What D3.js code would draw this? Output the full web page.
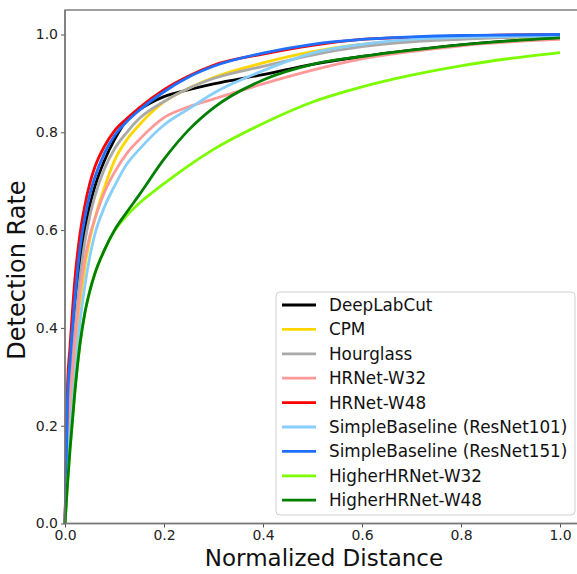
<!DOCTYPE html>
<html>
<head>
<meta charset="utf-8">
<script src="https://cdn.jsdelivr.net/npm/d3@7"></script>
<style>
  html, body { margin: 0; padding: 0; background: #fff; }
  svg { display: block; font-family: "DejaVu Sans", sans-serif; }
</style>
</head>
<body>
<svg id="chart" width="577" height="574"></svg>
<script>
// ---- data ----
const xs = [0, 0.005, 0.01, 0.02, 0.03, 0.04, 0.05, 0.06, 0.08, 0.1, 0.125, 0.15, 0.2, 0.25, 0.3, 0.4, 0.5, 0.6, 0.7, 0.8, 0.9, 1.0];

const seriesNames = ["DeepLabCut", "CPM", "Hourglass", "HRNet-W32", "HRNet-W48",
  "SimpleBaseline (ResNet101)", "SimpleBaseline (ResNet151)", "HigherHRNet-W32", "HigherHRNet-W48"];

const deepLabCut   = [0, 0.22, 0.30, 0.43, 0.53, 0.60, 0.65, 0.688, 0.743, 0.785, 0.825, 0.846, 0.873, 0.887, 0.899, 0.918, 0.939, 0.955, 0.968, 0.979, 0.987, 0.993];
const cpm          = [0, 0.12, 0.20, 0.33, 0.445, 0.525, 0.58, 0.622, 0.688, 0.742, 0.785, 0.815, 0.862, 0.89, 0.912, 0.942, 0.965, 0.98, 0.988, 0.992, 0.994, 0.995];
const hourglass    = [0, 0.20, 0.28, 0.40, 0.50, 0.575, 0.628, 0.668, 0.726, 0.766, 0.80, 0.828, 0.863, 0.89, 0.91, 0.935, 0.958, 0.975, 0.985, 0.99, 0.994, 0.996];
const hrnetW32     = [0, 0.15, 0.23, 0.37, 0.47, 0.54, 0.588, 0.622, 0.678, 0.718, 0.757, 0.785, 0.83, 0.852, 0.868, 0.899, 0.927, 0.95, 0.965, 0.977, 0.985, 0.99];
const hrnetW48     = [0, 0.28, 0.36, 0.50, 0.59, 0.65, 0.695, 0.728, 0.772, 0.803, 0.828, 0.85, 0.887, 0.915, 0.937, 0.96, 0.978, 0.99, 0.994, 0.997, 0.999, 1.0];
const sbResNet101  = [0, 0.11, 0.18, 0.30, 0.41, 0.485, 0.545, 0.59, 0.648, 0.69, 0.735, 0.765, 0.815, 0.848, 0.88, 0.926, 0.962, 0.98, 0.99, 0.994, 0.996, 0.997];
const sbResNet151  = [0, 0.25, 0.33, 0.46, 0.56, 0.625, 0.672, 0.707, 0.758, 0.793, 0.822, 0.845, 0.883, 0.913, 0.935, 0.962, 0.98, 0.99, 0.995, 0.998, 0.999, 1.0];
const higherW32    = [0, 0.08, 0.15, 0.27, 0.365, 0.43, 0.475, 0.51, 0.56, 0.598, 0.63, 0.655, 0.695, 0.732, 0.765, 0.818, 0.862, 0.893, 0.917, 0.936, 0.951, 0.963];
const higherW48    = [0, 0.08, 0.15, 0.27, 0.365, 0.43, 0.475, 0.51, 0.56, 0.60, 0.637, 0.672, 0.745, 0.805, 0.85, 0.907, 0.939, 0.955, 0.968, 0.979, 0.987, 0.993];

const seriesValues = [deepLabCut, cpm, hourglass, hrnetW32, hrnetW48, sbResNet101, sbResNet151, higherW32, higherW48];
const seriesColors = ["#000000", "#ffd700", "#a9a9a9", "#ff9999", "#ff0000", "#87cefa", "#1f6fff", "#7cfc00", "#007f00"];

const xTicks = [0, 0.2, 0.4, 0.6, 0.8, 1.0];
const yTicks = [0, 0.2, 0.4, 0.6, 0.8, 1.0];
const xLabel = "Normalized Distance";
const yLabel = "Detection Rate";

// ---- layout ----
const svg = d3.select("#chart");
const mLeft = 65, mTop = 10, mBottom = 523.5;
const x = d3.scaleLinear().domain([0, 1.05]).range([mLeft, mLeft + 1.05 * 495]);
const y = d3.scaleLinear().domain([0, 1.05]).range([mBottom, mBottom - 1.05 * 489]);

// frame
svg.append("rect")
  .attr("x", mLeft).attr("y", mTop)
  .attr("width", x(1.05) - mLeft).attr("height", mBottom - mTop)
  .attr("fill", "none").attr("stroke", "#777").attr("stroke-width", 1.4);

// lines
const line = d3.line()
  .x((d, i) => x(xs[i]))
  .y(d => y(d))
  .curve(d3.curveMonotoneX);

seriesValues.forEach((vals, k) => {
  svg.append("path")
    .datum(vals)
    .attr("d", line)
    .attr("fill", "none")
    .attr("stroke", seriesColors[k])
    .attr("stroke-width", 2.8)
    .attr("stroke-linejoin", "round");
});

// axes
const fmt = d3.format(".1f");
const xAxis = svg.append("g")
  .attr("transform", `translate(0,${mBottom})`)
  .call(d3.axisBottom(x).tickValues(xTicks).tickFormat(fmt).tickSize(4).tickPadding(3));
const yAxis = svg.append("g")
  .attr("transform", `translate(${mLeft},0)`)
  .call(d3.axisLeft(y).tickValues(yTicks).tickFormat(fmt).tickSize(4).tickPadding(3));

[xAxis, yAxis].forEach(g => {
  g.select(".domain").remove();
  g.selectAll(".tick line").attr("stroke", "#555").attr("stroke-width", 1);
  g.selectAll(".tick text")
    .attr("fill", "#222")
    .style("font-size", "14px")
    .style("font-family", "DejaVu Sans, sans-serif");
});
// left/bottom spines on top
svg.append("line").attr("x1", mLeft).attr("x2", mLeft).attr("y1", mTop).attr("y2", mBottom)
  .attr("stroke", "#777").attr("stroke-width", 1.4);
svg.append("line").attr("x1", mLeft).attr("x2", x(1.05)).attr("y1", mBottom).attr("y2", mBottom)
  .attr("stroke", "#777").attr("stroke-width", 1.4);

// axis titles
svg.append("text")
  .attr("x", 324).attr("y", 566)
  .attr("text-anchor", "middle")
  .style("font-size", "23px").attr("fill", "#111")
  .text(xLabel);
svg.append("text")
  .attr("transform", `translate(25,270) rotate(-90)`)
  .attr("text-anchor", "middle")
  .style("font-size", "24px").attr("fill", "#111")
  .text(yLabel);

// legend
const lg = svg.append("g");
lg.append("rect")
  .attr("x", 276).attr("y", 292).attr("width", 299).attr("height", 223)
  .attr("rx", 4)
  .attr("fill", "#fff").attr("fill-opacity", 0.85)
  .attr("stroke", "#d0d0d0").attr("stroke-width", 1);
seriesNames.forEach((name, k) => {
  const cy = 305 + k * 24.4;
  lg.append("line")
    .attr("x1", 282).attr("x2", 316).attr("y1", cy).attr("y2", cy)
    .attr("stroke", seriesColors[k]).attr("stroke-width", 2.8);
  lg.append("text")
    .attr("x", 329).attr("y", cy)
    .attr("dominant-baseline", "central")
    .style("font-size", "16.8px").attr("fill", "#111")
    .text(name);
});
</script>
</body>
</html>
